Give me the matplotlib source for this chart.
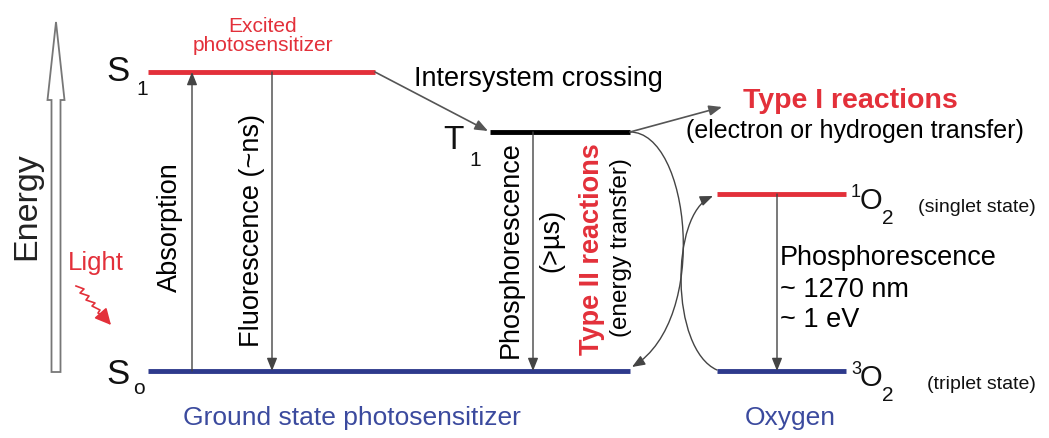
import matplotlib
matplotlib.use("Agg")
import matplotlib.pyplot as plt
from matplotlib.patches import FancyArrow, FancyArrowPatch
from matplotlib.path import Path

plt.rcParams['font.family'] = ['Liberation Sans', 'DejaVu Sans']

# energy levels (pixel-like diagram units, y grows downward)
level_names = ['S1', 'T1', 'S0', '1O2', '3O2']
level_x0 = [148, 490, 148, 717, 717]
level_x1 = [375, 630, 630, 846, 846]
level_y = [73, 133, 372, 195, 372]

# vertical transitions: x position, from level, to level
trans_labels = ['Absorption', 'Fluorescence (~ns)', 'Phosphorescence', '']
trans_x = [192, 272, 533, 777]
trans_from = ['S0', 'S1', 'T1', '1O2']
trans_to = ['S1', 'S0', 'S0', '3O2']

red = '#e3303a'
blue = '#2e3a8c'
txtblue = '#3b4a9e'
grey = '#444444'

lv = {n: (x0, x1, y) for n, x0, x1, y in zip(level_names, level_x0, level_x1, level_y)}

fig = plt.figure(figsize=(10.49, 4.39), dpi=100)
ax = fig.add_axes([0, 0, 1, 1])
ax.set_xlim(0, 1049)
ax.set_ylim(439, 0)
ax.axis('off')

# level lines
lcols = {'S1': red, 'T1': 'black', 'S0': blue, '1O2': red, '3O2': blue}
for n in level_names:
    x0, x1, y = lv[n]
    ax.plot([x0, x1], [y, y], color=lcols[n], lw=3.5, solid_capstyle='butt', zorder=3)

def arrow(p0, p1, color=grey, lw=1.0, ms=14):
    ax.annotate('', xy=p1, xytext=p0,
                arrowprops=dict(arrowstyle='-|>,head_length=0.55,head_width=0.22',
                                color=color, lw=lw, shrinkA=0, shrinkB=0,
                                mutation_scale=ms))

# vertical transitions
for x, a, b in zip(trans_x, trans_from, trans_to):
    arrow((x, lv[a][2]), (x, lv[b][2]))

# intersystem crossing and type I
arrow((lv['S1'][1], lv['S1'][2]), (lv['T1'][0] - 2, lv['T1'][2] - 1), color='#555555', lw=1.2)
arrow((lv['T1'][1], lv['T1'][2]), (722, 108), color='#555555', lw=1.2)

# type II energy transfer curves
t1x, t1y = lv['T1'][1], lv['T1'][2]
s0x, s0y = lv['S0'][1], lv['S0'][2]
pA = Path([(t1x, t1y), (t1x + 60, t1y), (t1x + 80, 320), (s0x + 2, s0y - 4)],
          [Path.MOVETO, Path.CURVE4, Path.CURVE4, Path.CURVE4])
ax.add_patch(FancyArrowPatch(path=pA, arrowstyle='-|>,head_length=0.55,head_width=0.22',
                             mutation_scale=14, color=grey, lw=1.0))
o3x, o3y = lv['3O2'][0], lv['3O2'][2]
o1x, o1y = lv['1O2'][0], lv['1O2'][2]
pB = Path([(o3x, o3y - 1), (o3x - 47, 350), (o3x - 47, 215), (o1x - 4, o1y + 2)],
          [Path.MOVETO, Path.CURVE4, Path.CURVE4, Path.CURVE4])
ax.add_patch(FancyArrowPatch(path=pB, arrowstyle='-|>,head_length=0.55,head_width=0.22',
                             mutation_scale=14, color=grey, lw=1.0))

# energy axis arrow
ax.add_patch(FancyArrow(56, 373, 0, -350, width=9, head_width=17, head_length=78,
                        length_includes_head=True, fc='white', ec='#777777', lw=1.3))
ax.text(27, 206, 'Energy', rotation=90, ha='center', va='center', fontsize=24.5, color='#222222')

# light squiggle
sq_x = [76, 84, 80, 89, 86, 95, 92, 100, 98, 104]
sq_y = [287, 290, 294, 297, 301, 304, 307, 311, 314, 318]
ax.plot(sq_x, sq_y, color=red, lw=1.2, solid_joinstyle='round')
ax.annotate('', xy=(111, 326), xytext=(sq_x[-1], sq_y[-1]),
            arrowprops=dict(arrowstyle='-|>,head_length=0.7,head_width=0.35',
                            color=red, lw=1.2, shrinkA=0, shrinkB=0, mutation_scale=14))
ax.text(68, 270, 'Light', color=red, fontsize=18.5, ha='left', va='baseline')

# level labels
fs_main = 19.5
ax.text(106, 81, 'S', fontsize=25, ha='left', va='baseline', color='#111111')
ax.text(136, 95, '1', fontsize=15, ha='left', va='baseline', color='#111111')
ax.text(106, 384, 'S', fontsize=25, ha='left', va='baseline', color='#111111')
ax.text(133, 394, 'o', fontsize=15, ha='left', va='baseline', color='#111111')
ax.text(443, 149, 'T', fontsize=24, ha='left', va='baseline', color='#111111')
ax.text(469, 166, '1', fontsize=15, ha='left', va='baseline', color='#111111')

for n, sup, state in [('1O2', '1', '(singlet state)'), ('3O2', '3', '(triplet state)')]:
    x1, y = lv[n][1], lv[n][2]
    ax.text(x1 + 5, y + 2, sup, fontsize=13, ha='left', va='baseline', color='#111111')
    ax.text(x1 + 14, y + 14, 'O', fontsize=21, ha='left', va='baseline', color='#111111')
    ax.text(x1 + 36, y + 29, '2', fontsize=15, ha='left', va='baseline', color='#111111')
    ax.text(x1 + 72 if n == '1O2' else x1 + 81, y + 17, state, fontsize=14,
            ha='left', va='baseline', color='#111111')

# transition labels
ax.text(170, 227, trans_labels[0], rotation=90, ha='center', va='center', fontsize=fs_main)
ax.text(252, 231, trans_labels[1], rotation=90, ha='center', va='center', fontsize=fs_main)
ax.text(511, 250, trans_labels[2], rotation=90, ha='center', va='center', fontsize=fs_main)
ax.text(551, 240, '(>µs)', rotation=90, ha='center', va='center', fontsize=fs_main)
ax.text(592, 249, 'Type II reactions', rotation=90, ha='center', va='center',
        fontsize=fs_main, fontweight='bold', color=red)
ax.text(621, 248, '(energy transfer)', rotation=90, ha='center', va='center', fontsize=17.5)

ax.text(780, 258, 'Phosphorescence', ha='left', va='center', fontsize=fs_main)
ax.text(780, 290, '~ 1270 nm', ha='left', va='center', fontsize=fs_main)
ax.text(780, 320, '~ 1 eV', ha='left', va='center', fontsize=fs_main)

ax.text(263, 36, 'Excited\nphotosensitizer', ha='center', va='center', fontsize=15,
        color=red, linespacing=1.0)
ax.text(414, 86, 'Intersystem crossing', ha='left', va='baseline', fontsize=fs_main)
ax.text(850, 108, 'Type I reactions', ha='center', va='baseline', fontsize=20.5,
        fontweight='bold', color=red)
ax.text(855, 131, '(electron or hydrogen transfer)', ha='center', va='center', fontsize=18)

ax.text(352, 418, 'Ground state photosensitizer', ha='center', va='center', fontsize=19,
        color=txtblue)
ax.text(790, 418, 'Oxygen', ha='center', va='center', fontsize=19, color=txtblue)

fig.savefig('out.png', dpi=100, facecolor='white')
